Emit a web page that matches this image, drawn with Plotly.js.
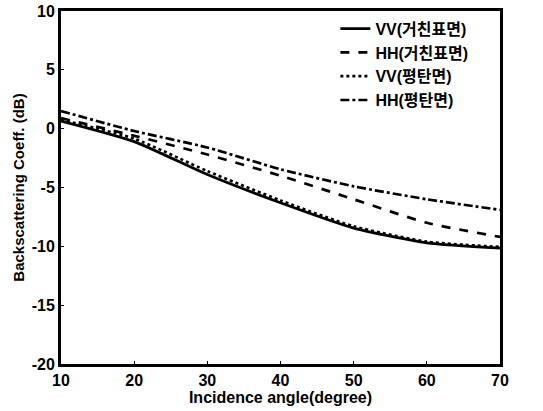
<!DOCTYPE html>
<html><head><meta charset="utf-8">
<script src="https://cdn.plot.ly/plotly-3.0.1.min.js"></script>
<style>html,body{margin:0;padding:0;background:#fff}</style>
</head><body>
<div id="chart" style="width:543px;height:411px"></div>
<script>
const angles = [10, 20, 30, 40, 50, 60, 70];
const vvRough = [0.65, -1.1, -3.9, -6.3, -8.45, -9.7, -10.15];
const hhRough = [0.9, -0.6, -2.2, -4.0, -6.0, -8.0, -9.2];
const vvSmooth = [0.75, -0.85, -3.6, -6.1, -8.3, -9.6, -10.05];
const hhSmooth = [1.5, -0.2, -1.6, -3.45, -4.9, -6.0, -6.9];
const names = ['VV(거친표면)', 'HH(거친표면)', 'VV(평탄면)', 'HH(평탄면)'];
const xTicks = [10, 20, 30, 40, 50, 60, 70];
const yTicks = [-20, -15, -10, -5, 0, 5, 10];
const yTickText = ['-20', '-15', '-10', '-5', '0', '5', '10'];
const dashes = ['solid', 'dash', 'dot', 'dashdot'];
const series = [vvRough, hhRough, vvSmooth, hhSmooth];
const font = "'Liberation Sans', 'Noto Sans CJK KR', Arial, sans-serif";
const traces = series.map((s, i) => ({
  x: angles, y: s, name: names[i], type: 'scatter', mode: 'lines',
  line: {color: '#000', width: 2.7, dash: dashes[i], shape: 'spline', smoothing: 0.6}
}));
const layout = {
  width: 543, height: 411,
  margin: {l: 61, r: 43, t: 11, b: 47},
  paper_bgcolor: '#fff', plot_bgcolor: '#fff',
  font: {family: font, color: '#000', size: 14, weight: 'bold'},
  showlegend: true,
  legend: {x: 0.625, y: 0.998, xanchor: 'left', yanchor: 'top', bgcolor: 'rgba(0,0,0,0)',
           font: {family: "'Liberation Sans', 'Noto Sans CJK KR', sans-serif", size: 16, weight: 'bold'},
           tracegroupgap: 0, itemwidth: 30},
  xaxis: {range: [10, 70], tickvals: xTicks, showgrid: false, zeroline: false,
          showline: true, linewidth: 3, linecolor: '#000', mirror: true,
          ticks: 'inside', ticklen: 3, tickcolor: '#000',
          tickfont: {size: 16, weight: 'bold'},
          title: {text: 'Incidence angle(degree)', font: {size: 16, weight: 'bold'}, standoff: 3}},
  yaxis: {range: [-20, 10], tickvals: yTicks, ticktext: yTickText, showgrid: false, zeroline: false,
          showline: true, linewidth: 3, linecolor: '#000', mirror: true,
          ticks: 'inside', ticklen: 3, tickcolor: '#000',
          tickfont: {size: 16, weight: 'bold'},
          title: {text: 'Backscattering Coeff. (dB)', font: {size: 15, weight: 'bold'}, standoff: 4}}
};
Plotly.newPlot('chart', traces, layout, {displayModeBar: false, staticPlot: true});
</script>
</body></html>
